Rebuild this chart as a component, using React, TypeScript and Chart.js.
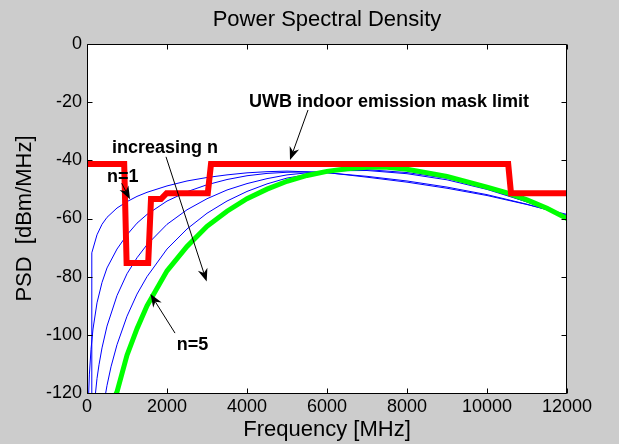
import React, { useEffect, useRef } from 'react';
import { Chart, registerables } from 'chart.js';

Chart.register(...registerables);

const FONT = '"Liberation Sans", Arial, Helvetica, sans-serif';

// Axis ranges and ticks
const xTicks = [0, 2000, 4000, 6000, 8000, 10000, 12000];
const yTicks = [-120, -100, -80, -60, -40, -20, 0];

// UWB indoor emission mask (dBm/MHz)
const maskFreq = [0, 930, 990, 1530, 1600, 1850, 1990, 3020, 3100, 10530, 10600, 12000];
const maskPsd = [-41.3, -41.3, -75.3, -75.3, -53.3, -53.3, -51.3, -51.3, -41.3, -41.3, -51.3, -51.3];

// Gaussian pulse derivative spectra, n = 1..5
const freqN1 = [118, 120, 250, 375, 500, 750, 1000, 1250, 1500, 2000, 2500, 3000, 3500, 4000, 4500, 5000, 6000, 7000, 8000, 9000, 10000, 11000, 12000];
const psdN1 = [-125, -71.8, -65.6, -62, -59.6, -56.4, -54.2, -52.4, -51, -48.8, -47.1, -45.9, -45, -44.3, -43.9, -43.7, -44.2, -45.8, -47.5, -49.6, -52.1, -55.2, -58.6];

const freqN2 = [40, 60, 100, 150, 250, 375, 500, 750, 1000, 1250, 1500, 2000, 2500, 3000, 3500, 4000, 4500, 5000, 5500, 6000, 7000, 8000, 9000, 10000, 11000, 12000];
const psdN2 = [-121, -113.5, -105, -98, -89, -82, -77, -70.5, -65.6, -61.6, -58.6, -54, -50.8, -48.4, -46.6, -45.3, -44.5, -44.1, -44, -44.3, -45.5, -47.1, -49.2, -51.8, -55.1, -58.9];

const freqN3 = [205, 250, 300, 375, 500, 750, 1000, 1250, 1500, 2000, 2500, 3000, 3500, 4000, 4500, 5000, 6000, 7000, 8000, 9000, 10000, 11000, 12000];
const psdN3 = [-121, -115, -110.3, -104.5, -97, -86.5, -79, -73.5, -69, -62, -57, -53.2, -50.2, -48, -46.3, -45, -43.6, -43.5, -44.6, -46.7, -50, -54.3, -59.2];

const freqN4 = [455, 500, 600, 750, 1000, 1250, 1500, 2000, 2500, 3000, 3500, 4000, 4500, 5000, 6000, 7000, 8000, 9000, 10000, 11000, 12000];
const psdN4 = [-121, -117.4, -111, -103.4, -93.6, -86, -80, -70.5, -63.6, -58.2, -54, -50.7, -48.1, -46.1, -43.8, -43.2, -44.2, -46.2, -49.6, -54.3, -59.5];

const freqN5 = [700, 750, 1000, 1250, 1500, 2000, 2500, 3000, 3500, 4000, 4500, 5000, 5500, 6000, 6500, 7000, 7500, 8000, 9000, 10000, 10500, 11000, 11500, 12000];
const psdN5 = [-121, -119.6, -107, -97.9, -90, -78, -69.6, -62.7, -57.5, -53.2, -49.9, -47.2, -45.2, -43.8, -42.9, -42.4, -42.4, -43.1, -45.5, -49.2, -51.2, -53.6, -56.5, -60];

// Text callouts with arrows, placed in data coordinates
type Note = { text: string; tx: number; ty: number; from: [number, number]; to: [number, number] };
const notes: Note[] = [
  { text: 'UWB indoor emission mask limit', tx: 7550, ty: -21.6, from: [5525, -22.7], to: [5075, -39.9] },
  { text: 'increasing n', tx: 1950, ty: -37.4, from: [1975, -38.8], to: [2992, -81.7] },
  { text: 'n=1', tx: 896, ty: -47.4, from: [867, -47.9], to: [1075, -53.4] },
  { text: 'n=5', tx: 2638, ty: -105.3, from: [2200, -99.4], to: [1588, -86.0] },
];

const pts = (xs: number[], ys: number[]) => xs.map((x, i) => ({ x, y: ys[i] }));

function drawArrow(ctx: CanvasRenderingContext2D, x0: number, y0: number, x1: number, y1: number) {
  const dx = x1 - x0;
  const dy = y1 - y0;
  const len = Math.hypot(dx, dy) || 1;
  const ux = dx / len;
  const uy = dy / len;
  const nx = -uy;
  const ny = ux;
  const L = 13;
  const W = 5;
  const B = 9;
  ctx.beginPath();
  ctx.moveTo(x0, y0);
  ctx.lineTo(x1 - ux * B, y1 - uy * B);
  ctx.lineWidth = 1;
  ctx.strokeStyle = '#000';
  ctx.stroke();
  ctx.beginPath();
  ctx.moveTo(x1, y1);
  ctx.lineTo(x1 - ux * L + nx * W, y1 - uy * L + ny * W);
  ctx.lineTo(x1 - ux * B, y1 - uy * B);
  ctx.lineTo(x1 - ux * L - nx * W, y1 - uy * L - ny * W);
  ctx.closePath();
  ctx.fillStyle = '#000';
  ctx.fill();
}

const framePlugin = {
  id: 'matlabFrame',
  beforeDraw(chart: any) {
    const { ctx, chartArea: a, width, height } = chart;
    ctx.save();
    ctx.fillStyle = '#cccccc';
    ctx.fillRect(0, 0, width, height);
    ctx.fillStyle = '#ffffff';
    ctx.fillRect(a.left, a.top, a.right - a.left, a.bottom - a.top);
    ctx.restore();
  },
  afterDatasetsDraw(chart: any) {
    const { ctx, chartArea: a } = chart;
    const xs = chart.scales.x;
    const ys = chart.scales.y;
    const T = 5;
    ctx.save();
    ctx.strokeStyle = '#000';
    ctx.lineWidth = 1;
    const L = a.left + 0.5;
    const R = a.right - 0.5;
    const Tp = a.top + 0.5;
    const Bt = a.bottom + 0.5;
    ctx.beginPath();
    ctx.moveTo(L, Tp);
    ctx.lineTo(R, Tp);
    ctx.lineTo(R, Bt);
    ctx.lineTo(L, Bt);
    ctx.closePath();
    for (const t of xs.ticks) {
      const px = Math.round(xs.getPixelForValue(t.value)) + 0.5;
      ctx.moveTo(px, Bt);
      ctx.lineTo(px, Bt - T);
      ctx.moveTo(px, Tp);
      ctx.lineTo(px, Tp + T);
    }
    for (const t of ys.ticks) {
      const py = Math.round(ys.getPixelForValue(t.value)) + 0.5;
      ctx.moveTo(L, py);
      ctx.lineTo(L + T, py);
      ctx.moveTo(R, py);
      ctx.lineTo(R - T, py);
    }
    ctx.stroke();
    ctx.restore();
  },
  afterDraw(chart: any) {
    const { ctx } = chart;
    const xs = chart.scales.x;
    const ys = chart.scales.y;
    ctx.save();
    ctx.font = `bold 18px ${FONT}`;
    ctx.textAlign = 'center';
    ctx.textBaseline = 'alphabetic';
    ctx.fillStyle = '#000';
    for (const n of notes) {
      ctx.fillText(n.text, xs.getPixelForValue(n.tx), ys.getPixelForValue(n.ty));
      drawArrow(
        ctx,
        xs.getPixelForValue(n.from[0]),
        ys.getPixelForValue(n.from[1]),
        xs.getPixelForValue(n.to[0]),
        ys.getPixelForValue(n.to[1])
      );
    }
    ctx.restore();
  },
};

export default function App() {
  const ref = useRef<HTMLCanvasElement>(null);

  useEffect(() => {
    if (!ref.current) return;
    const blue = (data: { x: number; y: number }[]) => ({
      data,
      borderColor: '#0000ff',
      borderWidth: 1,
      pointRadius: 0,
      tension: 0,
      order: 3,
    });
    const chart = new Chart(ref.current, {
      type: 'line',
      data: {
        datasets: [
          {
            label: 'mask',
            data: pts(maskFreq, maskPsd),
            borderColor: '#ff0000',
            borderWidth: 6,
            borderJoinStyle: 'miter',
            pointRadius: 0,
            tension: 0,
            order: 1,
          },
          {
            label: 'n=5',
            data: pts(freqN5, psdN5),
            borderColor: '#00ff00',
            borderWidth: 5,
            pointRadius: 0,
            tension: 0,
            order: 2,
          },
          { label: 'n=1', ...blue(pts(freqN1, psdN1)) },
          { label: 'n=2', ...blue(pts(freqN2, psdN2)) },
          { label: 'n=3', ...blue(pts(freqN3, psdN3)) },
          { label: 'n=4', ...blue(pts(freqN4, psdN4)) },
        ] as any,
      },
      options: {
        animation: false,
        responsive: false,
        devicePixelRatio: 1,
        layout: { padding: { left: 0, right: 52, top: 0, bottom: 0 } },
        plugins: {
          legend: { display: false },
          tooltip: { enabled: false },
          title: {
            display: true,
            fullSize: false,
            text: 'Power Spectral Density',
            color: '#000',
            font: { family: FONT, size: 22, weight: 'normal', lineHeight: 1.2 },
            padding: { top: 7, bottom: 10.6 },
          },
        },
        scales: {
          x: {
            type: 'linear',
            min: 0,
            max: 12000,
            afterBuildTicks: (s: any) => {
              s.ticks = xTicks.map((v) => ({ value: v }));
            },
            afterFit: (s: any) => {
              s.height = 51;
            },
            grid: { display: false, drawTicks: false },
            border: { display: false },
            ticks: {
              color: '#000',
              font: { family: FONT, size: 18 },
              padding: 3,
              maxRotation: 0,
              autoSkip: false,
              callback: (v: any) => String(v),
            },
            title: {
              display: true,
              text: 'Frequency [MHz]',
              color: '#000',
              font: { family: FONT, size: 22, lineHeight: 1.2 },
              padding: { top: 0, bottom: 1 },
            },
          },
          y: {
            type: 'linear',
            min: -120,
            max: 0,
            afterBuildTicks: (s: any) => {
              s.ticks = yTicks.map((v) => ({ value: v }));
            },
            afterFit: (s: any) => {
              s.width = 87;
            },
            grid: { display: false, drawTicks: false },
            border: { display: false },
            ticks: {
              color: '#000',
              font: { family: FONT, size: 18 },
              padding: 5,
              autoSkip: false,
              callback: (v: any) => String(v),
            },
            title: {
              display: true,
              text: 'PSD  [dBm/MHz]',
              color: '#000',
              font: { family: FONT, size: 22, lineHeight: 1.2 },
              padding: { top: 12, bottom: 0 },
            },
          },
        },
      } as any,
      plugins: [framePlugin],
    });
    return () => chart.destroy();
  }, []);

  return (
    <div style={{ position: 'fixed', left: 0, top: 0, width: 619, height: 444 }}>
      <canvas ref={ref} width={619} height={444} style={{ display: 'block' }} />
    </div>
  );
}
